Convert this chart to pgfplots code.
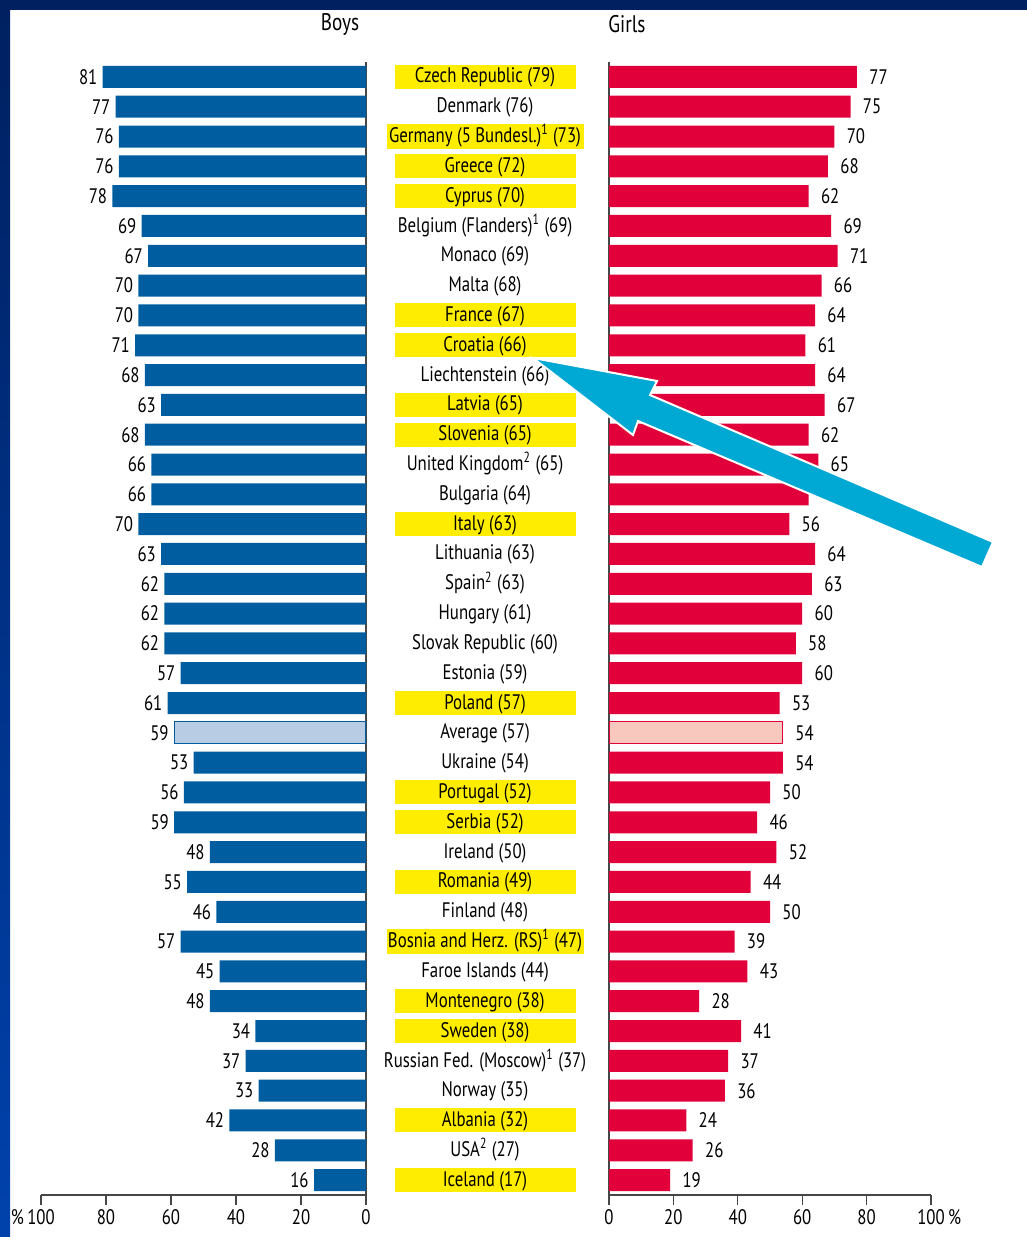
\documentclass[border=0pt]{standalone}
\usepackage{fontspec}
\setmainfont{PT Sans}[FakeStretch=0.8]
\usepackage{pgfplots}
\usepackage{pgfplotstable}
\pgfplotsset{compat=1.18}

\definecolor{boysblue}{RGB}{0,94,160}
\definecolor{girlsred}{RGB}{226,0,58}
\definecolor{avgblue}{RGB}{184,204,228}
\definecolor{avgred}{RGB}{248,200,190}
\definecolor{hly}{RGB}{255,237,0}
\definecolor{navy}{RGB}{0,32,96}
\definecolor{frameblue}{RGB}{0,66,172}
\definecolor{arrowcyan}{RGB}{0,168,212}
\definecolor{axisgray}{RGB}{70,70,70}

\newcommand\hl[1]{{\setlength\fboxsep{0pt}\colorbox{hly}{\rule[-3pt]{0pt}{12pt}\makebox[90.5pt]{#1}}}}
\newcommand\hlw[1]{{\setlength\fboxsep{0pt}\colorbox{hly}{\rule[-3pt]{0pt}{12pt}\makebox[98.5pt]{#1}}}}
\newcommand\nl[1]{\rule[-3pt]{0pt}{12pt}#1}
\newcommand\sx[1]{\textsuperscript{#1}}

% y: 37 = top row, average row (y=15) drawn separately
\pgfplotstableread{
y  boys girls
37 81 77
36 77 75
35 76 70
34 76 68
33 78 62
32 69 69
31 67 71
30 70 66
29 70 64
28 71 61
27 68 64
26 63 67
25 68 62
24 66 65
23 66 62
22 70 56
21 63 64
20 62 63
19 62 60
18 62 58
17 57 60
16 61 53
14 53 54
13 56 50
12 59 46
11 48 52
10 55 44
9  46 50
8  57 39
7  45 43
6  48 28
5  34 41
4  37 37
3  33 36
2  42 24
1  28 26
0  16 19
}\data

\pgfplotsset{
  pyr/.style={
    xbar, bar width=11pt, bar shift=0pt,
    scale only axis, height=566.5pt,
    ymin=-0.5, ymax=37.5, xmin=0, xmax=100,
    enlargelimits=false,
    axis x line=bottom,
    axis line style={-, axisgray, line width=0.8pt},
    xtick={0,20,...,100},
    tick align=outside, major tick length=5pt,
    x tick style={axisgray, line width=0.6pt},
    /pgf/number format/assume math mode=true,
    xticklabel style={font=\fontsize{10.5}{12}\selectfont, yshift=1.5pt},
    nodes near coords,
    every node near coord/.append style={font=\fontsize{10.5}{12}\selectfont, inner sep=0pt, text=black},
  }
}

\begin{document}
\begin{tikzpicture}
\path[use as bounding box] (0,0) rectangle (513.5pt,-618.5pt);
\fill[white] (0,0) rectangle (513.5pt,-618.5pt);
\fill[navy] (0,0) rectangle (513.5pt,-5pt);
\shade[top color=navy, bottom color=frameblue] (0,0) rectangle (5pt,-618.5pt);

\node[font=\fontsize{12}{14}\selectfont] at (170pt,-12pt) {Boys};
\node[font=\fontsize{12}{14}\selectfont] at (313.5pt,-12pt) {Girls};

% boys
\begin{axis}[pyr, at={(20.5pt,-31pt)}, anchor=north west, width=162.5pt,
  x dir=reverse, axis y line=right, ytick=\empty,
  y axis line style={-, axisgray, line width=0.6pt},
  xticklabels={0,20,40,60,80,\llap{\%\,}100},
  every node near coord/.append style={anchor=east, xshift=-2.5pt}]
\addplot[fill=boysblue, draw=none] table[x=boys, y=y] {\data};
\addplot[fill=avgblue, draw=boysblue, line width=0.6pt] coordinates {(59,15)};
\end{axis}

% girls
\begin{axis}[pyr, at={(304.5pt,-31pt)}, anchor=north west, width=161pt,
  axis y line=left, y axis line style={-, axisgray, line width=0.6pt},
  ytick={0,...,37}, y tick style={draw=none},
  yticklabel style={anchor=center, xshift=-59.5pt, font=\fontsize{10.5}{12}\selectfont},
  yticklabels={
    {\hl{Iceland (17)}}, {\nl{USA\sx{2} (27)}}, {\hl{Albania (32)}}, {\nl{Norway (35)}},
    {\nl{Russian Fed. (Moscow)\sx{1} (37)}}, {\hl{Sweden (38)}}, {\hl{Montenegro (38)}},
    {\nl{Faroe Islands (44)}}, {\hlw{Bosnia and Herz. (RS)\sx{1} (47)}}, {\nl{Finland (48)}},
    {\hl{Romania (49)}}, {\nl{Ireland (50)}}, {\hl{Serbia (52)}}, {\hl{Portugal (52)}},
    {\nl{Ukraine (54)}}, {\nl{Average (57)}}, {\hl{Poland (57)}}, {\nl{Estonia (59)}},
    {\nl{Slovak Republic (60)}}, {\nl{Hungary (61)}}, {\nl{Spain\sx{2} (63)}},
    {\nl{Lithuania (63)}}, {\hl{Italy (63)}}, {\nl{Bulgaria (64)}},
    {\nl{United Kingdom\sx{2} (65)}}, {\hl{Slovenia (65)}}, {\hl{Latvia (65)}},
    {\nl{Liechtenstein (66)}}, {\hl{Croatia (66)}}, {\hl{France (67)}}, {\nl{Malta (68)}},
    {\nl{Monaco (69)}}, {\nl{Belgium (Flanders)\sx{1} (69)}}, {\hl{Cyprus (70)}},
    {\hl{Greece (72)}}, {\hlw{Germany (5 Bundesl.)\sx{1} (73)}}, {\nl{Denmark (76)}},
    {\hl{Czech Republic (79)}}},
  xticklabels={0,20,40,60,80,100\rlap{\,\%}},
  every node near coord/.append style={anchor=west, xshift=6pt}]
\addplot[fill=girlsred, draw=none] table[x=girls, y=y] {\data};
\addplot[fill=avgred, draw=girlsred, line width=0.6pt] coordinates {(54,15)};
\end{axis}

% annotation arrow (pixel units)
\begin{scope}[x=0.5pt, y=-0.5pt]
\filldraw[fill=arrowcyan, draw=white, line width=1pt, line join=miter]
  (533,358) -- (657,381) -- (650,395) -- (993,542) -- (982,567) -- (638,421) -- (633,435) -- cycle;
\end{scope}
\end{tikzpicture}
\end{document}
